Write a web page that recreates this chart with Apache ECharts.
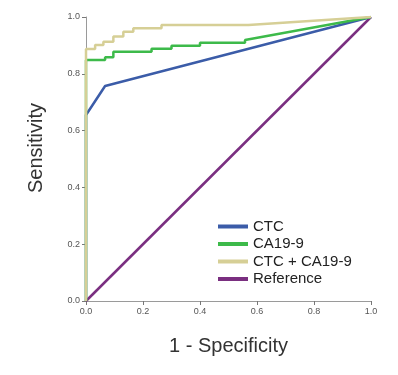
<!DOCTYPE html>
<html>
<head>
<meta charset="utf-8">
<script src="https://cdn.jsdelivr.net/npm/echarts@6/dist/echarts.min.js"></script>
<style>
  html, body { margin: 0; padding: 0; background: #fff; }
  #chart { width: 398px; height: 375px; }
</style>
</head>
<body>
<div id="chart"></div>
<script>
// ROC curves, [1 - specificity, sensitivity]
const ctcPoints = [[0, 0], [0, 0.655], [0.067, 0.757], [1, 1]]
const ca199Points = [
  [0, 0], [0, 0.849], [0.067, 0.849], [0.067, 0.858], [0.096, 0.858], [0.096, 0.878],
  [0.23, 0.878], [0.23, 0.888], [0.30, 0.888], [0.30, 0.899], [0.40, 0.899], [0.40, 0.909],
  [0.558, 0.909], [0.558, 0.919], [1, 1]
]
const combinedPoints = [
  [0, 0], [0, 0.887], [0.032, 0.887], [0.032, 0.901], [0.061, 0.901], [0.061, 0.913],
  [0.096, 0.913], [0.096, 0.931], [0.131, 0.931], [0.131, 0.948], [0.166, 0.948], [0.166, 0.96],
  [0.265, 0.96], [0.265, 0.972], [0.57, 0.972], [1, 1]
]
const referencePoints = [[0, 0], [1, 1]]
const seriesNames = ['CTC', 'CA19-9', 'CTC + CA19-9', 'Reference']

const FONT = '"Liberation Sans", Arial, sans-serif'
const chart = echarts.init(document.getElementById('chart'))

const axisCommon = {
  type: 'value',
  min: 0,
  max: 1,
  interval: 0.2,
  splitLine: { show: false },
  axisLine: { show: true, lineStyle: { color: '#9a9a9a', width: 1 } },
  axisTick: { show: true, length: 4, lineStyle: { color: '#777' } },
  axisLabel: {
    fontSize: 9,
    color: '#555',
    fontFamily: FONT,
    formatter: v => v.toFixed(1)
  },
  nameLocation: 'middle',
  nameTextStyle: { fontSize: 20, color: '#333', fontFamily: FONT }
}

function lineSeries(name, data, color) {
  return {
    name,
    type: 'line',
    data,
    symbol: 'none',
    silent: true,
    lineStyle: { color, width: 2.5 },
    itemStyle: { color }
  }
}

chart.setOption({
  animation: false,
  grid: { left: 86, right: 27, top: 17, bottom: 74 },
  xAxis: {
    ...axisCommon,
    name: '1 - Specificity',
    nameGap: 35,
    axisLabel: { ...axisCommon.axisLabel, margin: 6 }
  },
  yAxis: {
    ...axisCommon,
    name: 'Sensitivity',
    nameGap: 40,
    nameTextStyle: { ...axisCommon.nameTextStyle, padding: [0, 0, 0, 22] },
    axisLabel: { ...axisCommon.axisLabel, margin: 6 }
  },
  legend: {
    data: seriesNames,
    orient: 'vertical',
    left: 213,
    top: 214,
    icon: 'rect',
    itemWidth: 30,
    itemHeight: 4,
    itemGap: 2.5,
    textStyle: { fontSize: 15, color: '#222', fontFamily: FONT, padding: [0, 0, 0, 0] }
  },
  series: [
    lineSeries(seriesNames[3], referencePoints, '#7a2f80'),
    lineSeries(seriesNames[0], ctcPoints, '#3b5ca8'),
    lineSeries(seriesNames[1], ca199Points, '#3dba4a'),
    lineSeries(seriesNames[2], combinedPoints, '#d6cf96')
  ]
})
</script>
</body>
</html>
